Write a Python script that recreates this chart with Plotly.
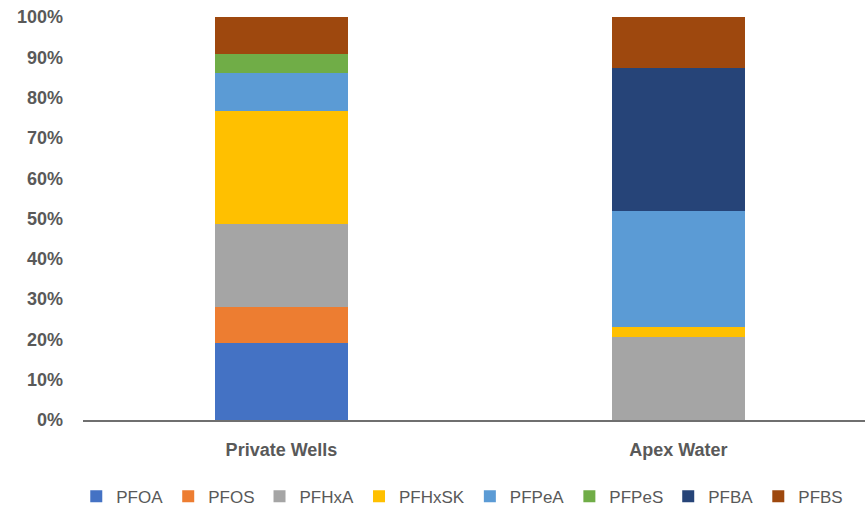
import plotly.graph_objects as go

# Sample sources and the share of each PFAS compound (percent of total)
sources = ["Private Wells", "Apex Water"]
compounds = ["PFOA", "PFOS", "PFHxA", "PFHxSK", "PFPeA", "PFPeS", "PFBA", "PFBS"]
pfoa = [19.1, 0.0]
pfos = [9.0, 0.0]
pfhxa = [20.6, 20.6]
pfhxsk = [28.0, 2.4]
pfpea = [9.4, 28.8]
pfpes = [4.8, 0.0]
pfba = [0.0, 35.5]
pfbs = [9.1, 12.7]
tick_values = [0, 10, 20, 30, 40, 50, 60, 70, 80, 90, 100]
tick_labels = ["0%", "10%", "20%", "30%", "40%", "50%", "60%", "70%", "80%", "90%", "100%"]

series = [pfoa, pfos, pfhxa, pfhxsk, pfpea, pfpes, pfba, pfbs]
colors = ["#4472C4", "#ED7D31", "#A5A5A5", "#FFC000",
          "#5B9BD5", "#70AD47", "#264478", "#9E480E"]

fig = go.Figure()
for name, vals, col in zip(compounds, series, colors):
    fig.add_trace(go.Bar(
        name=name, x=sources, y=vals, width=0.333,
        marker=dict(color=col, line=dict(width=0)),
    ))

bold_font = dict(family="Liberation Sans, Arial, sans-serif", size=18,
                 color="#595959", weight="bold")

fig.update_layout(
    barmode="stack",
    width=865, height=512,
    margin=dict(l=83, r=0, t=17, b=92, autoexpand=False),
    paper_bgcolor="white", plot_bgcolor="white",
    showlegend=True,
    legend=dict(orientation="h", x=0.485, xanchor="center",
                yref="container", y=0.03, yanchor="middle",
                font=dict(family="Liberation Sans, Arial, sans-serif", size=17, color="#595959"),
                traceorder="normal", itemwidth=30),
    xaxis=dict(range=[-0.5, 1.47], showgrid=False, showline=True, linecolor="#6f6f6f",
               linewidth=1.5, ticks="", ticklabelstandoff=13, tickfont=bold_font),
    yaxis=dict(range=[0, 100], tickmode="array", tickvals=tick_values, ticktext=tick_labels,
               showgrid=False, zeroline=False, showline=False, ticks="",
               ticklabelstandoff=19, tickfont=bold_font),
)

fig.write_html("out.html")
